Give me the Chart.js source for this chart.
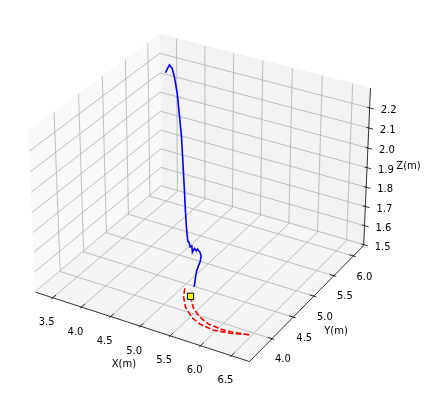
<!DOCTYPE html>
<html>
<head>
<meta charset="utf-8">
<style>
    html, body { margin: 0; background: #fff; }
    canvas { display: block; }
</style>
<script src="https://cdn.jsdelivr.net/npm/chart.js@4"></script>
</head>
<body>
<canvas id="chart" width="426" height="394"></canvas>
<script>
// Axis limits and ticks
const xLim = [3.2, 6.79];
const yLim = [3.49, 6.27];
const zLim = [1.495, 2.297];
const xTicks = [3.5, 4.0, 4.5, 5.0, 5.5, 6.0, 6.5];
const yTicks = [4.0, 4.5, 5.0, 5.5, 6.0];
const zTicks = [1.5, 1.6, 1.7, 1.8, 1.9, 2.0, 2.1, 2.2];

// Measured path
const blueX = [3.58, 3.61, 3.65, 3.71, 3.79, 3.93, 4.07, 4.23, 4.39, 4.55, 4.68, 4.78, 4.87, 4.90, 4.94, 4.97, 5.01, 5.03, 5.07, 5.08, 5.14, 5.18, 5.19, 5.18, 5.20, 5.22];
const blueY = [5.91, 5.91, 5.91, 5.895, 5.84, 5.72, 5.58, 5.42, 5.24, 5.06, 4.91, 4.80, 4.71, 4.70, 4.67, 4.67, 4.63, 4.65, 4.64, 4.65, 4.63, 4.60, 4.57, 4.50, 4.44, 4.39];
const blueZ = [2.190, 2.211, 2.235, 2.224, 2.197, 2.145, 2.080, 2.002, 1.914, 1.826, 1.760, 1.705, 1.662, 1.659, 1.646, 1.653, 1.632, 1.650, 1.643, 1.651, 1.644, 1.636, 1.617, 1.580, 1.551, 1.523];

// Reference arcs on the floor
const outerX = [5.06, 5.16, 5.32, 5.54, 5.73, 5.97, 6.22, 6.48];
const outerY = [4.39, 4.23, 4.06, 3.91, 3.84, 3.81, 3.85, 3.93];
const innerX = [5.24, 5.44, 5.64, 5.83, 6.04, 6.25, 6.48];
const innerY = [4.28, 4.08, 3.96, 3.89, 3.87, 3.88, 3.93];
const floorZ = 1.5;

const startX = [5.24];
const startY = [4.28];
const startZ = [1.5];

// mplot3d style projection, elev 30, azim -60
const BOX = [1.1245, 1.1245, 0.8433];
const DIST = 10;
const SCALE = 2180;
const CX = 202.5;
const CY = 190.5;

function project(x, y, z) {
    const qx = ((x - xLim[0]) / (xLim[1] - xLim[0]) - 0.5) * BOX[0];
    const qy = ((y - yLim[0]) / (yLim[1] - yLim[0]) - 0.5) * BOX[1];
    const qz = ((z - zLim[0]) / (zLim[1] - zLim[0]) - 0.5) * BOX[2];
    const w = DIST - (0.433 * qx - 0.75 * qy + 0.5 * qz);
    const u = 0.866 * qx + 0.5 * qy;
    const v = -0.25 * qx + 0.433 * qy + 0.866 * qz;
    return { x: CX + SCALE * u / w, y: CY - SCALE * v / w };
}

const datasets = [];

function addLine(points, color, width, order, extra) {
    datasets.push(Object.assign({
        data: points,
        showLine: true,
        borderColor: color,
        borderWidth: width,
        pointRadius: 0,
        tension: 0,
        order: order
    }, extra || {}));
}

function addPane(points, color) {
    addLine(points.concat([points[0]]), color, 1, 9, { fill: 'shape', backgroundColor: color });
}

const [x0, x1] = xLim;
const [y0, y1] = yLim;
const [z0, z1] = zLim;

addPane([project(x0, y0, z0), project(x0, y1, z0), project(x0, y1, z1), project(x0, y0, z1)], '#f9f9f9');
addPane([project(x0, y1, z0), project(x1, y1, z0), project(x1, y1, z1), project(x0, y1, z1)], '#f2f2f2');
addPane([project(x0, y0, z0), project(x1, y0, z0), project(x1, y1, z0), project(x0, y1, z0)], '#f5f5f5');

// grid lines
const GRID = '#b0b0b0';
xTicks.forEach(t => {
    addLine([project(t, y0, z0), project(t, y1, z0), project(t, y1, z1)], GRID, 0.8, 8);
});
yTicks.forEach(t => {
    addLine([project(x1, t, z0), project(x0, t, z0), project(x0, t, z1)], GRID, 0.8, 8);
});
zTicks.forEach(t => {
    addLine([project(x0, y0, t), project(x0, y1, t), project(x1, y1, t)], GRID, 0.8, 8);
});

// axis lines and tick marks
addLine([project(x0, y0, z0), project(x1, y0, z0)], '#000', 0.8, 7);
addLine([project(x1, y0, z0), project(x1, y1, z0)], '#000', 0.8, 7);
addLine([project(x1, y1, z0), project(x1, y1, z1)], '#000', 0.8, 7);
xTicks.forEach(t => addLine([project(t, y0 - 0.03, z0), project(t, y0 + 0.07, z0)], '#000', 0.8, 7));
yTicks.forEach(t => addLine([project(x1 - 0.07, t, z0), project(x1 + 0.04, t, z0)], '#000', 0.8, 7));
zTicks.forEach(t => addLine([project(x1 - 0.04, y1, t), project(x1 + 0.07, y1, t)], '#000', 0.8, 7));

// the paths
const arc = (xs, ys) => xs.map((x, i) => project(x, ys[i], floorZ));
addLine(arc(outerX, outerY), '#ff0000', 1.6, 3, { borderDash: [5.5, 2.4] });
addLine(arc(innerX, innerY), '#ff0000', 1.6, 3, { borderDash: [5.5, 2.4] });
addLine(blueX.map((x, i) => project(x, blueY[i], blueZ[i])), '#0000ff', 1.6, 2);
datasets.push({
    data: startX.map((x, i) => project(x, startY[i], startZ[i])),
    showLine: false,
    pointStyle: 'rect',
    pointRadius: 4.4,
    backgroundColor: '#ffff00',
    borderColor: '#000',
    borderWidth: 1,
    order: 1
});

// tick labels sit at a fixed offset from the tick
const labelsPlugin = {
    id: 'axisLabels',
    afterDatasetsDraw(chart) {
        const ctx = chart.ctx;
        ctx.save();
        ctx.font = '10px "DejaVu Sans"';
        ctx.fillStyle = '#000';
        ctx.textAlign = 'center';
        ctx.textBaseline = 'middle';
        xTicks.forEach(t => {
            const p = project(t, y0, z0);
            ctx.fillText(t.toFixed(1), p.x - 6, p.y + 25);
        });
        yTicks.forEach(t => {
            const p = project(x1, t, z0);
            ctx.fillText(t.toFixed(1), p.x + 11, p.y + 21);
        });
        zTicks.forEach(t => {
            const p = project(x1, y1, t);
            ctx.fillText(t.toFixed(1), p.x + 19, p.y + 2.5);
        });
        const xl = project((x0 + x1) / 2, y0, z0);
        ctx.fillText('X(m)', xl.x - 16, xl.y + 38.5);
        const yl = project(x1, (y0 + y1) / 2, z0);
        ctx.fillText('Y(m)', yl.x + 27, yl.y + 30);
        const zl = project(x1, y1, (z0 + z1) / 2);
        ctx.fillText('Z(m)', zl.x + 41.5, zl.y - 2);
        ctx.restore();
    }
};

new Chart(document.getElementById('chart').getContext('2d'), {
    type: 'scatter',
    data: { datasets: datasets },
    plugins: [labelsPlugin],
    options: {
        responsive: false,
        animation: false,
        layout: { padding: 0, autoPadding: false },
        plugins: { legend: { display: false }, tooltip: { enabled: false } },
        scales: {
            x: { type: 'linear', display: false, min: 0, max: 426 },
            y: { type: 'linear', display: false, min: 0, max: 394, reverse: true }
        }
    }
});
</script>
</body>
</html>
